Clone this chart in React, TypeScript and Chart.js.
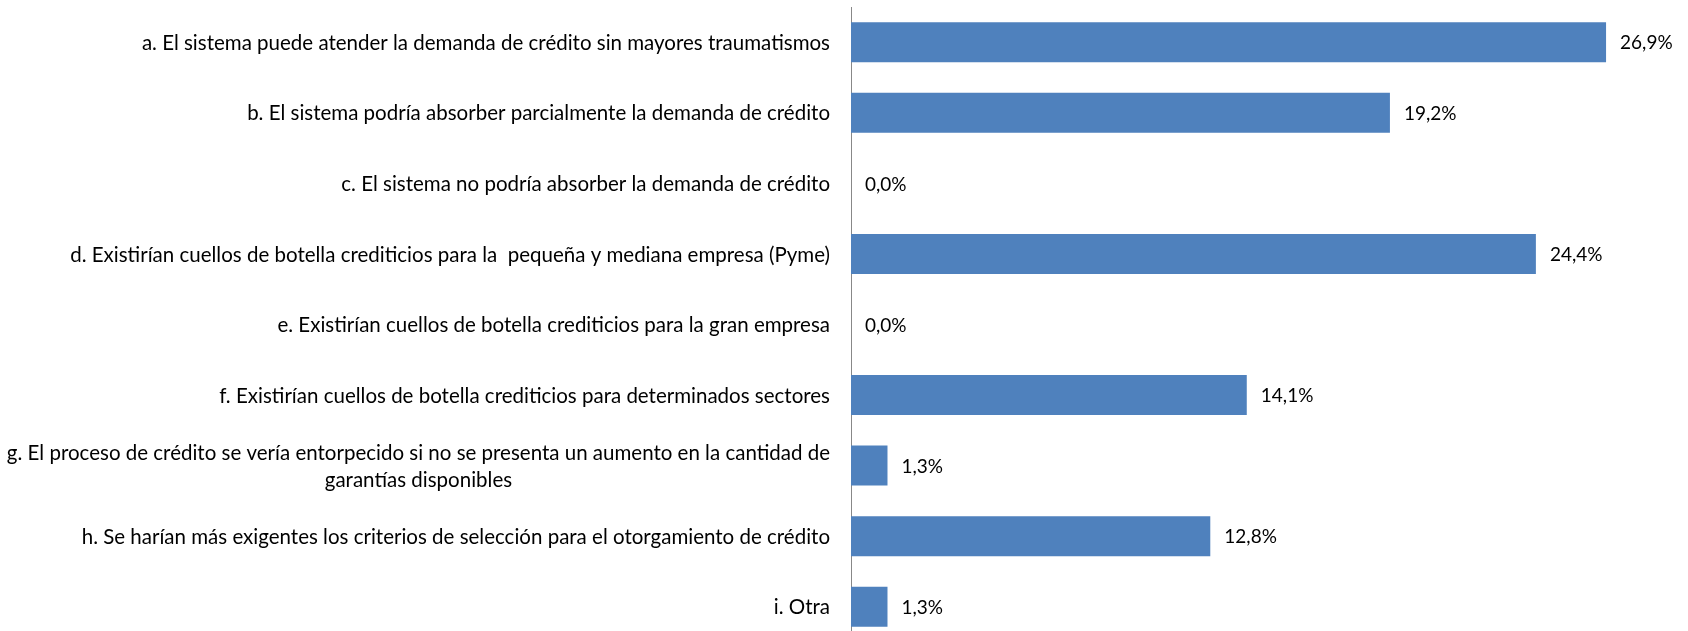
import React, { useEffect, useRef } from "react";
import { Chart, registerables } from "chart.js";

Chart.register(...registerables);

const categories: (string | string[])[] = [
  "a. El sistema puede atender la demanda de crédito sin mayores traumatismos",
  "b. El sistema podría absorber parcialmente la demanda de crédito",
  "c. El sistema no podría absorber la demanda de crédito",
  "d. Existirían cuellos de botella crediticios para la  pequeña y mediana empresa (Pyme)",
  "e. Existirían cuellos de botella crediticios para la gran empresa",
  "f. Existirían cuellos de botella crediticios para determinados sectores",
  [
    "g. El proceso de crédito se vería entorpecido si no se presenta un aumento en la cantidad de",
    "garantías disponibles",
  ],
  "h. Se harían más exigentes los criterios de selección para el otorgamiento de crédito",
  "i. Otra",
];

const values: number[] = [26.9, 19.2, 0.0, 24.4, 0.0, 14.1, 1.3, 12.8, 1.3];

const valueLabels: string[] = values.map((v) => v.toFixed(1).replace(".", ",") + "%");

const FONT = "Lato";
const LABEL_SIZE = 20.5;
const LABEL_LINE = 27;
const VALUE_SIZE = 19;

const labelPlugin = {
  id: "customLabels",
  afterDatasetsDraw(chart: any) {
    const ctx = chart.ctx;
    const meta = chart.getDatasetMeta(0);
    const yScale = chart.scales.y;
    ctx.save();
    ctx.fillStyle = "#000000";
    ctx.textBaseline = "middle";

    // value labels
    ctx.font = `${VALUE_SIZE}px ${FONT}`;
    ctx.textAlign = "left";
    meta.data.forEach((bar: any, i: number) => {
      ctx.fillText(valueLabels[i], bar.x + 14, bar.y + 1);
    });

    // category labels: block right-aligned, lines centered inside block
    ctx.font = `${LABEL_SIZE}px ${FONT}`;
    ctx.textAlign = "center";
    categories.forEach((lab, i) => {
      const lines = Array.isArray(lab) ? lab : [lab];
      const w = Math.max(...lines.map((l) => ctx.measureText(l).width));
      const cx = yScale.right - 21 - w / 2;
      const yc = yScale.getPixelForTick(i);
      lines.forEach((l, j) => {
        ctx.fillText(l, cx, yc + 1 + (j - (lines.length - 1) / 2) * LABEL_LINE);
      });
    });
    ctx.restore();
  },
};

export default function App() {
  const ref = useRef<HTMLCanvasElement | null>(null);

  useEffect(() => {
    if (!ref.current) return;
    const chart = new Chart(ref.current, {
      type: "bar",
      data: {
        labels: categories,
        datasets: [
          {
            data: values,
            backgroundColor: "#4F81BD",
            borderWidth: 0,
            categoryPercentage: 1,
            barPercentage: 0.567,
          },
        ],
      },
      options: {
        indexAxis: "y",
        responsive: false,
        animation: false,
        layout: { padding: { top: 7, right: 23, left: 0, bottom: 0 } },
        plugins: {
          legend: { display: false },
          tooltip: { enabled: false },
        },
        scales: {
          x: {
            display: false,
            min: 0,
            max: 29,
          },
          y: {
            grid: { display: false, drawTicks: false },
            border: { display: true, color: "#888888", width: 1 },
            ticks: {
              display: false,
              autoSkip: false,
            },
            afterFit: (scale: any) => {
              scale.width = 851;
              scale.paddingTop = 0;
              scale.paddingBottom = 0;
            },
          },
        },
      },
      plugins: [labelPlugin],
    });
    return () => chart.destroy();
  }, []);

  return (
    <div
      style={{
        position: "fixed",
        left: 0,
        top: 0,
        width: 1688,
        height: 631,
        overflow: "hidden",
        background: "#ffffff",
      }}
    >
      <canvas ref={ref} width={1688} height={642} style={{ display: "block" }} />
    </div>
  );
}
